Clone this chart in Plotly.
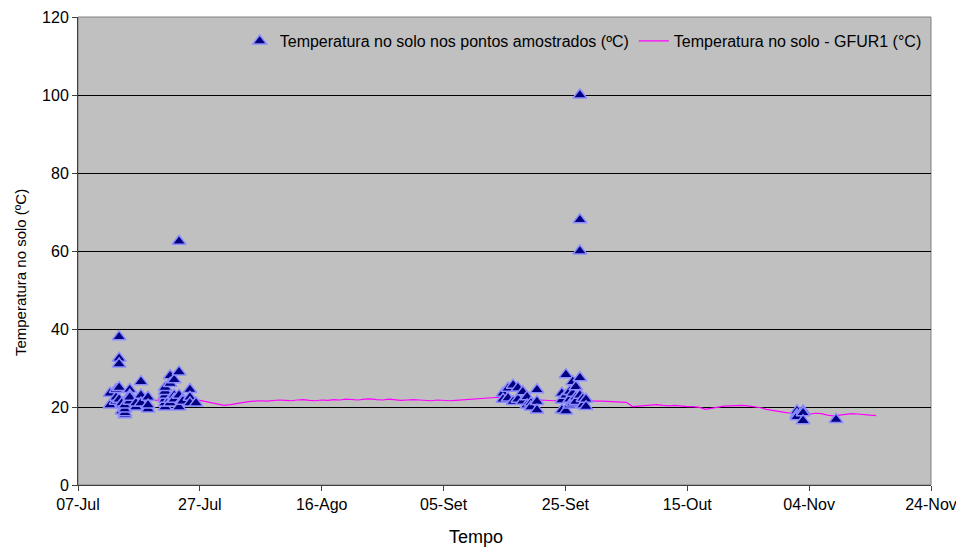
import pandas as pd
import plotly.graph_objects as go

# Soil temperature measured at the sampled points (date/time, ºC)
sample_times = [
    "2005-07-12 06:00", "2005-07-12 06:00",
    "2005-07-13 06:00", "2005-07-13 06:00", "2005-07-13 06:00",
    "2005-07-13 18:00", "2005-07-13 18:00", "2005-07-13 18:00", "2005-07-13 18:00", "2005-07-13 18:00",
    "2005-07-14 05:00", "2005-07-14 05:00", "2005-07-14 05:00",
    "2005-07-14 17:00", "2005-07-14 17:00", "2005-07-14 17:00", "2005-07-14 17:00",
    "2005-07-15 12:00", "2005-07-15 12:00", "2005-07-15 12:00", "2005-07-15 12:00",
    "2005-07-16 12:00", "2005-07-16 12:00",
    "2005-07-17 08:00", "2005-07-17 08:00", "2005-07-17 08:00",
    "2005-07-18 12:00", "2005-07-18 12:00", "2005-07-18 12:00",
    "2005-07-21 07:00", "2005-07-21 07:00", "2005-07-21 07:00", "2005-07-21 07:00", "2005-07-21 07:00", "2005-07-21 07:00",
    "2005-07-22 03:00", "2005-07-22 03:00", "2005-07-22 03:00", "2005-07-22 03:00",
    "2005-07-22 19:00", "2005-07-22 19:00", "2005-07-22 19:00",
    "2005-07-23 14:00", "2005-07-23 14:00", "2005-07-23 14:00", "2005-07-23 14:00",
    "2005-07-24 05:00", "2005-07-24 05:00",
    "2005-07-25 09:00", "2005-07-25 09:00", "2005-07-25 09:00",
    "2005-07-26 09:00",
    "2005-09-14 18:00", "2005-09-14 18:00",
    "2005-09-15 14:00", "2005-09-15 14:00",
    "2005-09-16 10:00", "2005-09-16 10:00",
    "2005-09-17 05:00", "2005-09-17 05:00",
    "2005-09-18 00:00", "2005-09-18 00:00",
    "2005-09-18 17:00", "2005-09-18 17:00",
    "2005-09-19 08:00", "2005-09-19 08:00",
    "2005-09-20 08:00", "2005-09-20 08:00", "2005-09-20 08:00",
    "2005-09-24 10:00", "2005-09-24 10:00", "2005-09-24 10:00",
    "2005-09-25 02:00", "2005-09-25 02:00", "2005-09-25 02:00",
    "2005-09-25 17:00", "2005-09-25 17:00", "2005-09-25 17:00",
    "2005-09-26 05:00", "2005-09-26 05:00", "2005-09-26 05:00",
    "2005-09-26 17:00", "2005-09-26 17:00", "2005-09-26 17:00",
    "2005-09-27 09:00", "2005-09-27 09:00", "2005-09-27 09:00", "2005-09-27 09:00", "2005-09-27 09:00",
    "2005-09-27 21:00", "2005-09-27 21:00",
    "2005-09-28 09:00", "2005-09-28 09:00",
    "2005-11-02 00:00", "2005-11-02 00:00", "2005-11-02 00:00",
    "2005-11-03 00:00", "2005-11-03 00:00", "2005-11-03 00:00",
    "2005-11-08 10:00",
]
sample_temps = [
    23.5, 20.5,
    21.5, 22.5, 24.5,
    38.0, 32.5, 31.0, 25.0, 22.0,
    20.5, 19.0, 21.0,
    18.0, 18.5, 19.5, 20.5,
    24.5, 23.0, 21.5, 22.5,
    20.0, 21.0,
    26.5, 23.0, 21.0,
    22.5, 19.5, 20.5,
    20.0, 21.0, 22.0, 23.0, 24.0, 25.0,
    28.0, 26.0, 22.0, 21.0,
    27.0, 23.0, 22.0,
    62.5, 29.0, 23.0, 20.0,
    22.0, 21.5,
    24.5, 22.5, 21.0,
    21.0,
    23.5, 22.0,
    24.8, 22.3,
    25.6, 21.4,
    24.9, 22.0,
    23.9, 21.5,
    22.6, 20.5,
    21.0, 20.0,
    24.4, 21.4, 19.2,
    23.5, 21.8, 19.2,
    28.3, 23.0, 19.0,
    24.0, 22.0, 20.5,
    26.5, 23.5, 21.0,
    25.2, 22.5, 21.4,
    100.0, 68.0, 60.0, 27.5, 23.0,
    22.2, 20.5,
    22.0, 20.1,
    19.0, 18.0, 17.5,
    19.0, 18.5, 16.5,
    16.8,
]

# Daily soil temperature from the GFUR1 station (ºC), starting 19 Jul
gfur_start = "2005-07-19"
gfur_temps = [
    # Jul 19-31
    21.6, 21.8, 21.9, 22.0, 21.9, 22.1, 21.9, 21.8, 21.7, 21.4, 21.0, 20.7, 20.4,
    # Aug
    20.6, 20.9, 21.2, 21.4, 21.5, 21.6, 21.5, 21.7, 21.8, 21.7, 21.6, 21.8, 21.9, 21.7,
    21.6, 21.8, 21.7, 21.9, 21.8, 22.0, 21.9, 21.8, 22.0, 22.1, 21.9, 21.8, 22.0, 21.9,
    21.7, 21.8, 21.9,
    # Sep
    21.8, 21.7, 21.6, 21.8, 21.7, 21.6, 21.7, 21.8, 21.9, 22.0, 22.1, 22.3, 22.4, 22.5,
    22.3, 22.1, 22.0, 21.9, 21.8, 21.7, 21.8, 21.7, 21.6, 21.8, 21.9, 21.8, 21.7, 21.8,
    21.6, 21.5,
    # Oct
    21.5, 21.4, 21.4, 21.3, 21.2, 20.1, 20.2, 20.4, 20.5, 20.6, 20.4, 20.3, 20.4, 20.2,
    20.1, 20.1, 19.9, 19.4, 19.7, 20.0, 20.2, 20.3, 20.4, 20.4, 20.3, 20.1, 19.8, 19.4,
    19.1, 18.9, 18.6,
    # Nov 1-15
    18.4, 18.0, 17.9, 18.2, 18.4, 18.3, 17.9, 17.7, 17.9, 18.2, 18.3, 18.2, 18.0, 17.9,
    17.8,
]
gfur_dates = pd.date_range(gfur_start, periods=len(gfur_temps), freq="D")

tick_dates = ["2005-07-07", "2005-07-27", "2005-08-16", "2005-09-05",
              "2005-09-25", "2005-10-15", "2005-11-04", "2005-11-24"]
tick_labels = ["07-Jul", "27-Jul", "16-Ago", "05-Set", "25-Set", "15-Out", "04-Nov", "24-Nov"]

FONT = "Liberation Sans, Arial, sans-serif"

fig = go.Figure()

fig.add_trace(go.Scatter(
    x=gfur_dates, y=gfur_temps, mode="lines",
    name="Temperatura no solo - GFUR1 (°C)",
    line=dict(color="#FF00FF", width=1.2),
    legendrank=2,
))

fig.add_trace(go.Scatter(
    x=sample_times, y=sample_temps, mode="markers",
    name="Temperatura no solo nos pontos amostrados (ºC)",
    marker=dict(symbol="triangle-up", size=12, color="#000080",
                line=dict(color="#8C8CFF", width=1.5)),
    legendrank=1,
))

fig.update_layout(
    width=956, height=550,
    margin=dict(l=78, r=25, t=17, b=65),
    paper_bgcolor="white",
    plot_bgcolor="#C0C0C0",
    font=dict(family=FONT, size=16, color="black"),
    showlegend=True,
    legend=dict(
        orientation="h", x=0.995, xanchor="right", y=0.985, yanchor="top",
        bgcolor="rgba(0,0,0,0)", font=dict(size=16), itemwidth=30,
    ),
    shapes=[dict(type="rect", xref="paper", yref="paper", x0=0, x1=1, y0=0, y1=1,
                 line=dict(color="#808080", width=1), layer="below")],
    annotations=[
        dict(text="Temperatura no solo (ºC)", xref="paper", yref="paper",
             x=-0.068, y=0.455, textangle=-90, showarrow=False,
             font=dict(size=15), xanchor="center", yanchor="middle"),
        dict(text="Tempo", xref="paper", yref="paper",
             x=0.4666, y=-0.111, showarrow=False,
             font=dict(size=18), xanchor="center", yanchor="middle"),
    ],
)

fig.update_xaxes(
    range=["2005-07-07", "2005-11-24"], automargin=False,
    ticklabeloverflow="allow",
    tickmode="array", tickvals=tick_dates, ticktext=tick_labels,
    ticks="outside", ticklen=5, tickcolor="#404040",
    showgrid=False, showline=True, linecolor="#404040", linewidth=1,
)

fig.update_yaxes(
    range=[0, 120], dtick=20, tick0=0, automargin=False,
    ticks="outside", ticklen=5, tickcolor="#404040",
    showgrid=True, gridcolor="#000000", gridwidth=1, zeroline=False,
    showline=True, linecolor="#404040", linewidth=1,
)

fig.write_html("out.html")
